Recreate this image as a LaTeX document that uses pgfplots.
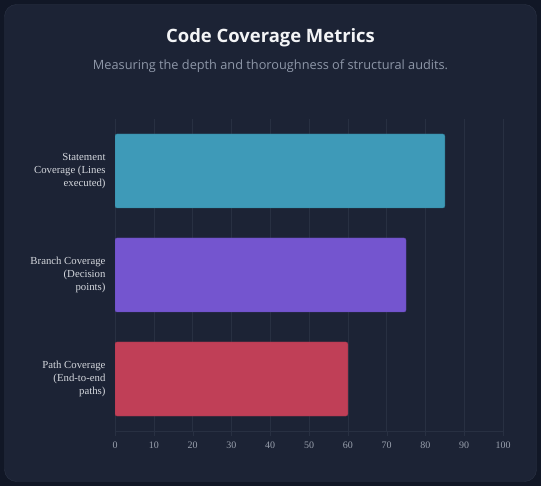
\documentclass[border=0pt]{standalone}
\usepackage{pgfplots}
\pgfplotsset{compat=1.18}
\usepackage{fontspec}
\setmainfont{Liberation Serif}
\newfontfamily\titlefont{Open Sans}
\definecolor{outerbg}{HTML}{111726}
\definecolor{cardbg}{HTML}{1C2335}
\definecolor{cardedge}{HTML}{2B3345}
\definecolor{gridc}{HTML}{283042}
\definecolor{titlec}{HTML}{F3F4F6}
\definecolor{subc}{HTML}{8E97A8}
\definecolor{ylabc}{HTML}{D4D7DD}
\definecolor{xlabc}{HTML}{9AA1AE}
\definecolor{barA}{HTML}{3E9AB8}
\definecolor{barB}{HTML}{7455CF}
\definecolor{barC}{HTML}{C03F57}
\begin{document}
\begin{tikzpicture}[x=1bp,y=1bp]
\fill[outerbg] (0,0) rectangle (541,486);
\filldraw[fill=cardbg,draw=cardedge,rounded corners=12bp] (4.5,4.5) rectangle (536.5,481.5);
\node[font=\titlefont\bfseries\fontsize{18.5}{22}\selectfont,text=titlec] at (270.5,448) {Code Coverage Metrics};
\node[font=\titlefont\fontsize{12.8}{15}\selectfont,text=subc] at (270.5,420) {Measuring the depth and thoroughness of structural audits.};
\begin{axis}[
  at={(115bp,55bp)}, anchor=south west,
  width=388bp, height=312bp, scale only axis,
  xmin=0, xmax=100, ymin=-0.5, ymax=2.5, y dir=reverse,
  xtick={0,10,...,100},
  ytick={0,1,2},
  yticklabels={{Statement\\Coverage (Lines\\executed)},{Branch Coverage\\(Decision\\points)},{Path Coverage\\(End-to-end\\paths)}},
  yticklabel style={align=right, font=\fontsize{10.8}{13}\selectfont, text=ylabc, xshift=-1bp},
  xticklabel style={font=\fontsize{10}{12}\selectfont, text=xlabc, yshift=-2bp},
  /pgf/number format/assume math mode=true,
  axis line style={draw=none},
  axis x line*=bottom,
  x axis line style={draw=gridc},
  major tick length=5bp,
  xtick style={draw=gridc},
  ytick style={draw=none},
  xmajorgrids, grid style={draw=gridc, line width=0.6bp},
  xbar, bar width=74bp, bar shift=0pt,
  tick align=outside,
]
\addplot[fill=barA, draw=barA!80!black, rounded corners=2bp] coordinates {(85,0)};
\addplot[fill=barB, draw=barB!85!black, rounded corners=2bp] coordinates {(75,1)};
\addplot[fill=barC, draw=barC!85!black, rounded corners=2bp] coordinates {(60,2)};
\end{axis}
\end{tikzpicture}
\end{document}
